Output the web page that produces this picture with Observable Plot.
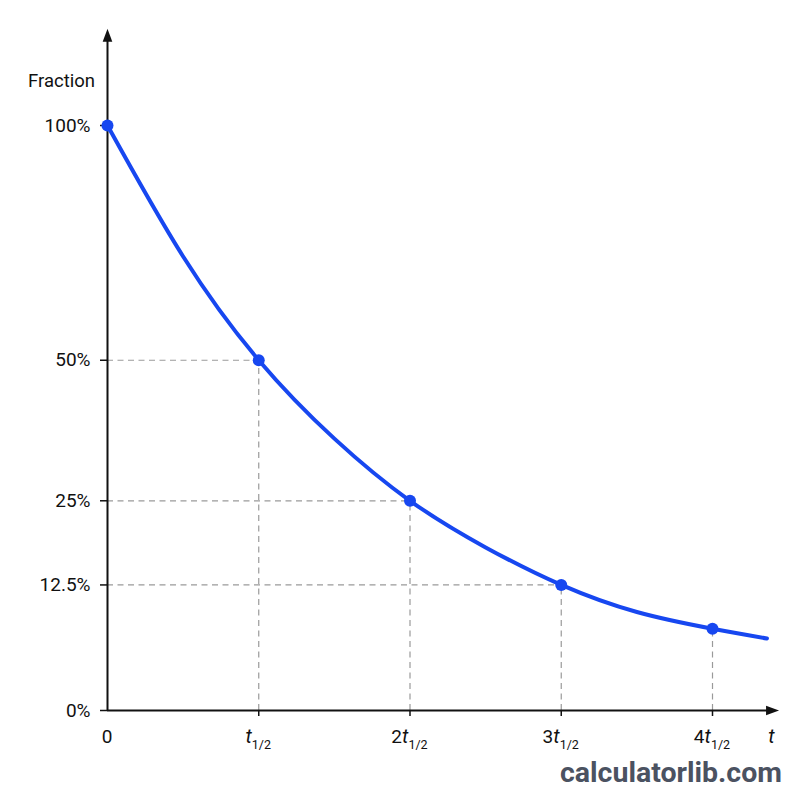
<!DOCTYPE html>
<html>
<head>
<meta charset="utf-8">
<script src="https://cdn.jsdelivr.net/npm/d3@7"></script>
<script src="https://cdn.jsdelivr.net/npm/@observablehq/plot@0.6"></script>
<style>
  html, body { margin: 0; padding: 0; background: #ffffff; }
  #chart svg { display: block; }
</style>
</head>
<body>
<div id="chart"></div>
<script>
// ---- data ----
const halfLives = [0, 1, 2, 3, 4];                 // t in units of t1/2
const fractions = [1, 0.5, 0.25, 0.125, 0.07];      // marked points
const curveT = [0, 0.5, 1, 1.5, 2, 2.5, 3, 3.5, 4, 4.36];
const curveF = [1, 0.71, 0.5, 0.355, 0.25, 0.178, 0.125, 0.09, 0.07, 0.059];
const yTickValues = [0, 0.125, 0.25, 0.5, 1];
const yTickLabels = ["0%", "12.5%", "25%", "50%", "100%"];
const xTickPrefix = ["0", "", "2", "3", "4"];
const xAxisEnd = 4.44;
const yAxisEnd = 1.23;
const yTitle = "Fraction";
const xTitle = "t";
const watermark = "calculatorlib.com";

// ---- tables ----
const points = halfLives.map((t, i) => ({t, f: fractions[i]}));
const curve = curveT.map((t, i) => ({t, f: curveF[i]}));
const hGuides = points.slice(1, 4);
const vGuides = points.slice(1, 5);

const blue = "#1747f0";
const arrowHead = {
  draw(ctx) {
    ctx.moveTo(0, 0);
    ctx.lineTo(-4.8, 13);
    ctx.lineTo(4.8, 13);
    ctx.closePath();
  }
};

const chart = Plot.plot({
  width: 800,
  height: 800,
  marginLeft: 107,
  marginRight: 22,
  marginTop: 28,
  marginBottom: 90,
  style: {fontFamily: "Roboto, 'Liberation Sans', sans-serif", fontSize: "19px", color: "#111", background: "#fff"},
  x: {type: "linear", domain: [0, 4], range: [107, 712]},
  y: {type: "pow", exponent: 0.74, domain: [0, 1], range: [710, 125]},
  marks: [
    // dashed guides
    Plot.ruleY(hGuides, {y: "f", x1: 0, x2: "t", stroke: "#9a9a9a", strokeWidth: 1.2, strokeDasharray: "6,4.5"}),
    Plot.ruleX(vGuides, {x: "t", y1: 0, y2: "f", stroke: "#9a9a9a", strokeWidth: 1.2, strokeDasharray: "6,4.5"}),
    // axes lines
    Plot.ruleY([0], {x1: 0, x2: xAxisEnd - 0.05, stroke: "#111", strokeWidth: 2}),
    Plot.ruleX([0], {y1: 0, y2: yAxisEnd - 0.02, stroke: "#111", strokeWidth: 2}),
    Plot.dot([{x: 0, y: yAxisEnd}], {x: "x", y: "y", symbol: arrowHead, fill: "#111", stroke: "none"}),
    Plot.dot([{x: xAxisEnd, y: 0}], {x: "x", y: "y", symbol: arrowHead, fill: "#111", stroke: "none", rotate: 90}),
    // ticks
    Plot.axisY({ticks: yTickValues, tickFormat: (d) => yTickLabels[yTickValues.indexOf(d)], tickSize: 7, tickPadding: 10, fontSize: 19, label: null, stroke: "#111", strokeWidth: 1.5, fill: "#111"}),
    Plot.axisX({ticks: halfLives.slice(1), tickFormat: () => "", tickSize: 6, label: null, stroke: "#111", strokeWidth: 1.5}),
    // curve and points
    Plot.line(curve, {x: "t", y: "f", curve: "natural", stroke: blue, strokeWidth: 4}),
    Plot.dot(points, {x: "t", y: "f", r: 6, fill: blue, stroke: "none"})
  ]
});

document.getElementById("chart").appendChild(chart);

// ---- text labels with subscripts ----
const xs = chart.scale("x");
const svg = d3.select(chart);
const g = svg.append("g").attr("font-family", "Roboto, 'Liberation Sans', sans-serif").attr("fill", "#111");

halfLives.forEach((t, i) => {
  const txt = g.append("text")
    .attr("x", xs.apply(t))
    .attr("y", 743)
    .attr("text-anchor", "middle")
    .attr("font-size", 19);
  if (i === 0) {
    txt.text(xTickPrefix[i]);
  } else {
    if (xTickPrefix[i]) txt.append("tspan").text(xTickPrefix[i]);
    txt.append("tspan").attr("font-style", "italic").attr("font-size", 20).text("t");
    txt.append("tspan").attr("font-size", 12.5).attr("dy", 6).text("1/2");
  }
});

g.append("text")
  .attr("x", xs.apply(xAxisEnd) - 7)
  .attr("y", 743)
  .attr("text-anchor", "middle")
  .attr("font-size", 20)
  .attr("font-style", "italic")
  .text(xTitle);

g.append("text")
  .attr("x", xs.apply(0) - 12)
  .attr("y", 87)
  .attr("text-anchor", "end")
  .attr("font-size", 18.5)
  .text(yTitle);

g.append("text")
  .attr("x", 782)
  .attr("y", 782)
  .attr("text-anchor", "end")
  .attr("font-size", 28.5)
  .attr("font-weight", "bold")
  .attr("fill", "#4b5261")
  .text(watermark);
</script>
</body>
</html>
